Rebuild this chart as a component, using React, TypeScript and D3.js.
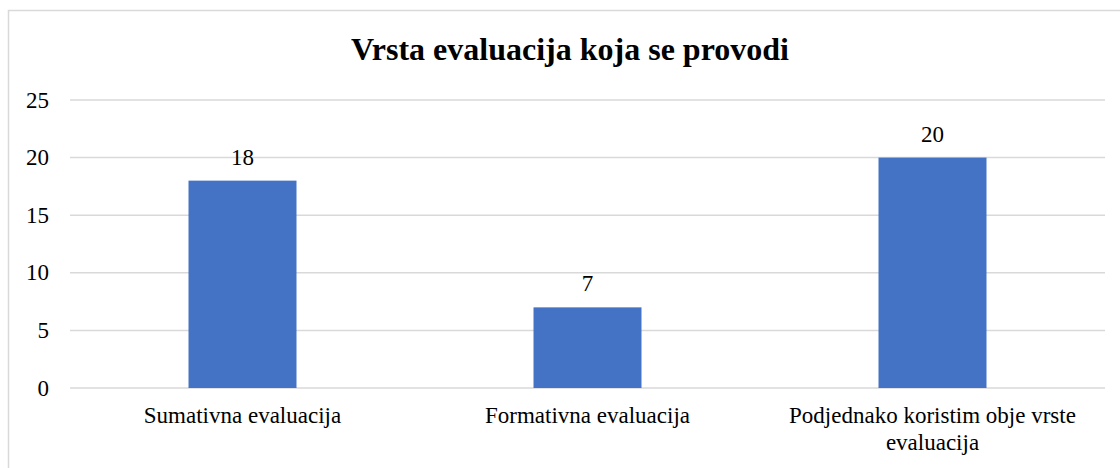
import React from 'react';
import * as d3 from 'd3';

const categories = ['Sumativna evaluacija', 'Formativna evaluacija', 'Podjednako koristim obje vrste evaluacija'];
const values = [18, 7, 20];
const yTicks = [0, 5, 10, 15, 20, 25];
const title = 'Vrsta evaluacija koja se provodi';

// wrapped label lines, as in the picture
const labelLines: Record<string, string[]> = {
  'Podjednako koristim obje vrste evaluacija': ['Podjednako koristim obje vrste', 'evaluacija'],
};

const width = 1120;
const height = 468;
const margin = { top: 100, left: 70, right: 15 };

const App = () => {
  const xScale = d3.scaleBand()
    .domain(categories)
    .range([margin.left, width - margin.right])
    .paddingInner(0.687)
    .paddingOuter(0.3435);

  const yScale = d3.scaleLinear()
    .domain([0, 25])
    .range([388, 100]);

  const font = { fontFamily: 'Liberation Serif' };
  const fs = 23;

  return (
    <svg width={width} height={height} style={{ position: 'absolute', left: 0, top: 0 }}>
      {/* chart border */}
      <rect x={8.5} y={10.5} width={1130} height={480} fill="#fff" stroke="#d9d9d9" strokeWidth={1.5} />

      {/* gridlines */}
      {yTicks.map(t => (
        <line key={t} x1={margin.left} x2={width - margin.right} y1={yScale(t)} y2={yScale(t)}
          stroke="#d9d9d9" strokeWidth={1.5} />
      ))}

      {/* y tick labels */}
      {yTicks.map(t => (
        <text key={t} x={49} y={yScale(t)} dy="0.33em" textAnchor="end" fontSize={fs} style={font}>{t}</text>
      ))}

      {/* bars */}
      {values.map((v, i) => (
        <rect key={i} x={xScale(categories[i])} y={yScale(v)} width={xScale.bandwidth()}
          height={yScale(0) - yScale(v)} fill="#4472c4" />
      ))}

      {/* value labels */}
      {values.map((v, i) => (
        <text key={i} x={(xScale(categories[i]) as number) + xScale.bandwidth() / 2} y={yScale(v) - 16}
          textAnchor="middle" fontSize={fs} style={font}>{v}</text>
      ))}

      {/* category labels */}
      {categories.map(c => {
        const lines = labelLines[c] || [c];
        const cx = (xScale(c) as number) + xScale.bandwidth() / 2;
        return (
          <text key={c} textAnchor="middle" fontSize={fs} style={font}>
            {lines.map((l, j) => (
              <tspan key={j} x={cx} y={423 + j * 27}>{l}</tspan>
            ))}
          </text>
        );
      })}

      {/* title */}
      <text x={570} y={60} textAnchor="middle" fontSize={32} fontWeight="bold" style={font}>{title}</text>
    </svg>
  );
};

export default App;
